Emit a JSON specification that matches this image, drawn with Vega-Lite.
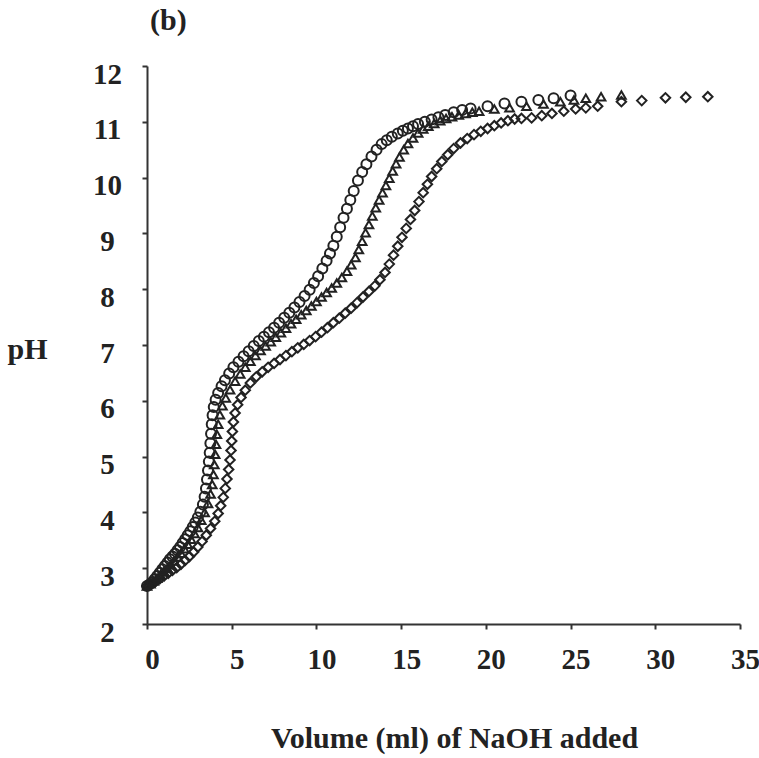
{
  "$schema": "https://vega.github.io/schema/vega-lite/v6.json",
  "autosize": "none",
  "width": 593,
  "height": 558,
  "padding": {"left": 147, "top": 66, "right": 19, "bottom": 134},
  "background": "white",
  "title": {"text": "(b)", "anchor": "start", "frame": "group", "dx": 3, "offset": 24, "font": "Liberation Serif", "fontSize": 30, "fontWeight": "bold", "color": "#222"},
  "datasets": {
    "circles": [
      {"v":0.0,"pH":2.68},{"v":0.15,"pH":2.71},{"v":0.3,"pH":2.75},{"v":0.45,"pH":2.8},{"v":0.6,"pH":2.86},{"v":0.75,"pH":2.92},{"v":0.9,"pH":2.98},{"v":1.05,"pH":3.04},{"v":1.2,"pH":3.1},{"v":1.35,"pH":3.16},{"v":1.5,"pH":3.21},{"v":1.65,"pH":3.26},{"v":1.8,"pH":3.32},{"v":1.95,"pH":3.38},{"v":2.1,"pH":3.45},{"v":2.25,"pH":3.52},{"v":2.4,"pH":3.59},{"v":2.55,"pH":3.66},{"v":2.7,"pH":3.74},{"v":2.85,"pH":3.82},{"v":3.0,"pH":3.91},{"v":3.15,"pH":4.01},{"v":3.3,"pH":4.14},{"v":3.4,"pH":4.28},{"v":3.48,"pH":4.43},{"v":3.54,"pH":4.59},{"v":3.6,"pH":4.75},{"v":3.65,"pH":4.91},{"v":3.7,"pH":5.07},{"v":3.74,"pH":5.24},{"v":3.78,"pH":5.41},{"v":3.82,"pH":5.58},{"v":3.87,"pH":5.74},{"v":3.94,"pH":5.89},{"v":4.05,"pH":6.02},{"v":4.2,"pH":6.14},{"v":4.4,"pH":6.26},{"v":4.6,"pH":6.37},{"v":4.85,"pH":6.49},{"v":5.1,"pH":6.6},{"v":5.4,"pH":6.7},{"v":5.7,"pH":6.8},{"v":6.0,"pH":6.89},{"v":6.3,"pH":6.98},{"v":6.6,"pH":7.07},{"v":6.9,"pH":7.15},{"v":7.2,"pH":7.23},{"v":7.5,"pH":7.31},{"v":7.8,"pH":7.4},{"v":8.1,"pH":7.49},{"v":8.4,"pH":7.58},{"v":8.7,"pH":7.67},{"v":9.0,"pH":7.77},{"v":9.3,"pH":7.88},{"v":9.6,"pH":7.99},{"v":9.85,"pH":8.11},{"v":10.1,"pH":8.23},{"v":10.35,"pH":8.37},{"v":10.6,"pH":8.51},{"v":10.8,"pH":8.64},{"v":11.0,"pH":8.78},{"v":11.2,"pH":8.94},{"v":11.4,"pH":9.11},{"v":11.6,"pH":9.28},{"v":11.8,"pH":9.44},{"v":12.0,"pH":9.6},{"v":12.2,"pH":9.76},{"v":12.45,"pH":9.95},{"v":12.7,"pH":10.1},{"v":12.95,"pH":10.24},{"v":13.25,"pH":10.38},{"v":13.55,"pH":10.5},{"v":13.85,"pH":10.6},{"v":14.15,"pH":10.67},{"v":14.45,"pH":10.73},{"v":14.8,"pH":10.79},{"v":15.1,"pH":10.84},{"v":15.4,"pH":10.88},{"v":15.7,"pH":10.92},{"v":16.0,"pH":10.96},{"v":16.4,"pH":11.0},{"v":16.8,"pH":11.04},{"v":17.2,"pH":11.08},{"v":17.6,"pH":11.12},{"v":18.1,"pH":11.17},{"v":18.6,"pH":11.21},{"v":19.1,"pH":11.24},{"v":20.1,"pH":11.28},{"v":21.1,"pH":11.33},{"v":22.1,"pH":11.36},{"v":23.1,"pH":11.39},{"v":24.0,"pH":11.42},{"v":25.0,"pH":11.47}
    ],
    "triangles": [
      {"v":0.0,"pH":2.68},{"v":0.2,"pH":2.72},{"v":0.4,"pH":2.77},{"v":0.6,"pH":2.82},{"v":0.8,"pH":2.88},{"v":1.0,"pH":2.94},{"v":1.2,"pH":3.0},{"v":1.4,"pH":3.06},{"v":1.6,"pH":3.13},{"v":1.8,"pH":3.2},{"v":2.0,"pH":3.27},{"v":2.2,"pH":3.35},{"v":2.4,"pH":3.43},{"v":2.6,"pH":3.52},{"v":2.8,"pH":3.62},{"v":3.0,"pH":3.73},{"v":3.2,"pH":3.86},{"v":3.4,"pH":4.0},{"v":3.6,"pH":4.16},{"v":3.75,"pH":4.33},{"v":3.85,"pH":4.5},{"v":3.92,"pH":4.68},{"v":3.97,"pH":4.86},{"v":4.02,"pH":5.04},{"v":4.07,"pH":5.22},{"v":4.12,"pH":5.4},{"v":4.2,"pH":5.58},{"v":4.3,"pH":5.75},{"v":4.45,"pH":5.91},{"v":4.65,"pH":6.05},{"v":4.9,"pH":6.2},{"v":5.2,"pH":6.35},{"v":5.5,"pH":6.48},{"v":5.8,"pH":6.6},{"v":6.1,"pH":6.71},{"v":6.4,"pH":6.81},{"v":6.7,"pH":6.9},{"v":7.0,"pH":6.98},{"v":7.3,"pH":7.06},{"v":7.6,"pH":7.14},{"v":7.9,"pH":7.22},{"v":8.2,"pH":7.3},{"v":8.5,"pH":7.38},{"v":8.8,"pH":7.46},{"v":9.1,"pH":7.54},{"v":9.4,"pH":7.62},{"v":9.7,"pH":7.7},{"v":10.0,"pH":7.78},{"v":10.3,"pH":7.86},{"v":10.6,"pH":7.94},{"v":10.9,"pH":8.02},{"v":11.2,"pH":8.11},{"v":11.5,"pH":8.21},{"v":11.8,"pH":8.32},{"v":12.05,"pH":8.44},{"v":12.3,"pH":8.57},{"v":12.5,"pH":8.71},{"v":12.7,"pH":8.86},{"v":12.9,"pH":9.01},{"v":13.1,"pH":9.16},{"v":13.3,"pH":9.31},{"v":13.5,"pH":9.46},{"v":13.7,"pH":9.6},{"v":13.9,"pH":9.73},{"v":14.1,"pH":9.86},{"v":14.3,"pH":9.99},{"v":14.5,"pH":10.12},{"v":14.7,"pH":10.25},{"v":14.9,"pH":10.37},{"v":15.15,"pH":10.5},{"v":15.4,"pH":10.61},{"v":15.7,"pH":10.71},{"v":16.0,"pH":10.8},{"v":16.3,"pH":10.87},{"v":16.6,"pH":10.92},{"v":16.95,"pH":10.97},{"v":17.3,"pH":11.02},{"v":17.65,"pH":11.06},{"v":18.0,"pH":11.09},{"v":18.4,"pH":11.12},{"v":18.8,"pH":11.15},{"v":19.2,"pH":11.17},{"v":19.6,"pH":11.19},{"v":20.5,"pH":11.23},{"v":21.4,"pH":11.25},{"v":22.4,"pH":11.28},{"v":23.4,"pH":11.32},{"v":24.4,"pH":11.36},{"v":25.2,"pH":11.39},{"v":25.9,"pH":11.42},{"v":26.8,"pH":11.45},{"v":28.0,"pH":11.48}
    ],
    "diamonds": [
      {"v":0.0,"pH":2.68},{"v":0.25,"pH":2.72},{"v":0.5,"pH":2.76},{"v":0.75,"pH":2.81},{"v":1.0,"pH":2.86},{"v":1.25,"pH":2.91},{"v":1.5,"pH":2.96},{"v":1.75,"pH":3.01},{"v":2.0,"pH":3.07},{"v":2.25,"pH":3.14},{"v":2.5,"pH":3.21},{"v":2.75,"pH":3.29},{"v":3.0,"pH":3.38},{"v":3.25,"pH":3.48},{"v":3.5,"pH":3.59},{"v":3.75,"pH":3.71},{"v":4.0,"pH":3.84},{"v":4.2,"pH":3.98},{"v":4.35,"pH":4.12},{"v":4.5,"pH":4.27},{"v":4.62,"pH":4.43},{"v":4.72,"pH":4.6},{"v":4.82,"pH":4.77},{"v":4.9,"pH":4.94},{"v":4.96,"pH":5.11},{"v":5.0,"pH":5.28},{"v":5.04,"pH":5.45},{"v":5.1,"pH":5.62},{"v":5.2,"pH":5.78},{"v":5.35,"pH":5.93},{"v":5.55,"pH":6.06},{"v":5.8,"pH":6.19},{"v":6.1,"pH":6.32},{"v":6.45,"pH":6.43},{"v":6.8,"pH":6.52},{"v":7.15,"pH":6.6},{"v":7.5,"pH":6.67},{"v":7.85,"pH":6.74},{"v":8.2,"pH":6.81},{"v":8.55,"pH":6.88},{"v":8.9,"pH":6.95},{"v":9.25,"pH":7.01},{"v":9.6,"pH":7.08},{"v":9.95,"pH":7.15},{"v":10.3,"pH":7.23},{"v":10.65,"pH":7.31},{"v":11.0,"pH":7.4},{"v":11.35,"pH":7.48},{"v":11.7,"pH":7.57},{"v":12.05,"pH":7.66},{"v":12.4,"pH":7.76},{"v":12.75,"pH":7.86},{"v":13.1,"pH":7.96},{"v":13.45,"pH":8.06},{"v":13.75,"pH":8.17},{"v":14.05,"pH":8.3},{"v":14.3,"pH":8.45},{"v":14.55,"pH":8.61},{"v":14.8,"pH":8.77},{"v":15.05,"pH":8.93},{"v":15.3,"pH":9.09},{"v":15.55,"pH":9.25},{"v":15.8,"pH":9.41},{"v":16.05,"pH":9.57},{"v":16.3,"pH":9.73},{"v":16.55,"pH":9.88},{"v":16.8,"pH":10.02},{"v":17.1,"pH":10.16},{"v":17.4,"pH":10.29},{"v":17.75,"pH":10.41},{"v":18.1,"pH":10.52},{"v":18.5,"pH":10.62},{"v":18.9,"pH":10.7},{"v":19.3,"pH":10.77},{"v":19.7,"pH":10.83},{"v":20.1,"pH":10.88},{"v":20.5,"pH":10.93},{"v":20.9,"pH":10.98},{"v":21.3,"pH":11.02},{"v":21.7,"pH":11.05},{"v":22.1,"pH":11.06},{"v":22.7,"pH":11.07},{"v":23.3,"pH":11.11},{"v":23.9,"pH":11.15},{"v":24.6,"pH":11.19},{"v":25.3,"pH":11.23},{"v":25.9,"pH":11.25},{"v":26.6,"pH":11.28},{"v":28.0,"pH":11.36},{"v":29.2,"pH":11.38},{"v":30.6,"pH":11.43},{"v":31.8,"pH":11.44},{"v":33.1,"pH":11.45}
    ]
  },
  "encoding": {
    "x": {"field": "v", "type": "quantitative",
      "scale": {"domain": [0, 35], "nice": false, "zero": false},
      "axis": {"title": "Volume (ml) of NaOH added", "values": [0,5,10,15,20,25,30,35], "grid": false,
        "domainColor": "#333", "domainWidth": 2, "tickColor": "#333", "tickWidth": 2, "tickSize": 5,
        "labelFont": "Liberation Serif", "labelFontSize": 29, "labelFontWeight": "bold", "labelColor": "#222",
        "labelPadding": 16, "labelOffset": 5, "labelFlush": false, "labelOverlap": false,
        "titleFont": "Liberation Serif", "titleFontSize": 30, "titleFontWeight": "bold", "titleColor": "#222",
        "titleX": 307, "titleY": 114, "titleAnchor": "middle", "titleBaseline": "middle"}},
    "y": {"field": "pH", "type": "quantitative",
      "scale": {"domain": [2, 12], "nice": false, "zero": false},
      "axis": {"title": "pH", "values": [2,3,4,5,6,7,8,9,10,11,12], "grid": false,
        "domainColor": "#333", "domainWidth": 2, "tickColor": "#333", "tickWidth": 2, "tickSize": 5,
        "labelFont": "Liberation Serif", "labelFontSize": 29, "labelFontWeight": "bold", "labelColor": "#222",
        "labelPadding": 35, "labelAlign": "center", "labelOffset": 8, "labelFlush": false, "labelOverlap": false,
        "titleFont": "Liberation Serif", "titleFontSize": 30, "titleFontWeight": "bold", "titleColor": "#222",
        "titleAngle": 0, "titleX": -120, "titleY": 283, "titleAlign": "center", "titleBaseline": "middle"}}
  },
  "layer": [
    {"data": {"name": "diamonds"}, "mark": {"type": "point", "shape": "diamond", "filled": false, "size": 90, "stroke": "#222", "strokeWidth": 2, "opacity": 1}},
    {"data": {"name": "triangles"}, "mark": {"type": "point", "shape": "triangle-up", "filled": false, "size": 75, "stroke": "#222", "strokeWidth": 2, "opacity": 1}},
    {"data": {"name": "circles"}, "mark": {"type": "point", "shape": "circle", "filled": false, "size": 100, "stroke": "#222", "strokeWidth": 2, "opacity": 1}}
  ],
  "config": {"view": {"stroke": null}}
}
